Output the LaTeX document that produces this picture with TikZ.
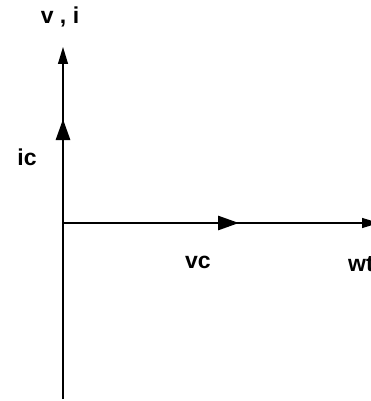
\documentclass[tikz,border=0pt]{standalone}
\usepackage{fontspec}
\setmainfont{Liberation Sans}
\usetikzlibrary{arrows.meta}
\begin{document}
\begin{tikzpicture}[x=1pt,y=-1pt,
  axis/.style={line width=1.1pt,-{Triangle[length=17pt,width=10pt]}},
  phasor/.style={line width=2.8pt,-{Triangle[length=21pt,width=14pt]}},
  lbl/.style={font=\fontsize{23}{26}\selectfont\bfseries,inner sep=0pt}]
\useasboundingbox (0,0) rectangle (371,401);
\coordinate (O) at (63,223);
\coordinate (bot) at (63,399);
\coordinate (top) at (63,47);
\coordinate (right) at (379,223);
\coordinate (ictip) at (63,119);
\coordinate (vctip) at (239,223);
\draw[axis] (bot) -- (top);
\draw[axis] (O) -- (right);
\draw[phasor] (O) -- (ictip);
\draw[phasor] (O) -- (vctip);
\node[lbl] (vi) at (60,17) {v , i};
\node[lbl] (ic) at (27,157) {ic};
\node[lbl] (vc) at (198,262) {vc};
\node[lbl,anchor=west] (wt) at (348,264) {wt};
\end{tikzpicture}
\end{document}
